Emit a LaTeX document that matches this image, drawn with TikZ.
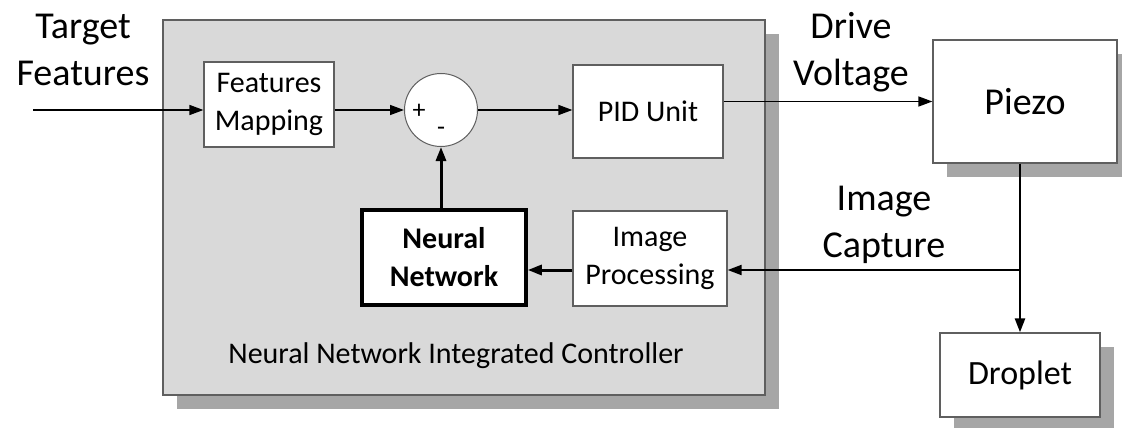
\documentclass[tikz,border=0pt]{standalone}
\usepackage{fontspec}
\setmainfont{Carlito}
\usetikzlibrary{arrows.meta, shadows}

\definecolor{panelgray}{HTML}{D9D9D9}
\definecolor{shadegray}{HTML}{A6A6A6}
\definecolor{edgegray}{HTML}{5F5F5F}

\tikzset{
  blk/.style={draw=edgegray, line width=1.3pt, fill=white, inner sep=0pt, align=center, font=\fontsize{30}{38}\selectfont},
  shadowed/.style={drop shadow={shadow xshift=14pt, shadow yshift=-14pt, fill=shadegray, opacity=1}},
  lbl/.style={align=center, inner sep=0pt, font=\fontsize{38}{47}\selectfont},
  sig/.style={line width=1.5pt, -{Triangle[length=14pt,width=10pt]}},
}

\begin{document}
\begin{tikzpicture}[x=1pt, y=-1pt]
\useasboundingbox (0,0) rectangle (1122,428);
% controller panel
\node (ctrl) at (464,207.5) [draw=edgegray, line width=2pt, fill=panelgray, minimum width=602pt, minimum height=375pt, shadowed] {};
\node (ctrllbl) at (456,363) [anchor=base, inner sep=0pt, font=\fontsize{30}{36}\selectfont] {Neural Network Integrated Controller};
% blocks
\node (fm) at (269,104.5) [blk, minimum width=130pt, minimum height=85pt] {Features\\Mapping};
\node (sum) at (441,110) [circle, draw=edgegray, line width=1pt, fill=white, minimum size=73pt, inner sep=0pt] {};
\node (plus) at (419,111) [inner sep=0pt, font=\fontsize{26}{26}\selectfont] {+};
\node (minus) at (441,131) [inner sep=0pt, font=\fontsize{26}{26}\selectfont] {-};
\node (pid) at (648,111.5) [blk, minimum width=150pt, minimum height=93pt] {PID Unit};
\node (ip) at (650,258.5) [blk, minimum width=154pt, minimum height=95pt] {Image\\Processing};
\node (nn) at (444,257.5) [blk, draw=black, line width=3.5pt, minimum width=164pt, minimum height=95pt, font=\bfseries\fontsize{30}{38}\selectfont] {Neural\\Network};
\node (piezo) at (1025,101.5) [blk, shadowed, minimum width=184pt, minimum height=123pt, font=\fontsize{38}{44}\selectfont] {Piezo};
\node (drop) at (1020,375) [blk, shadowed, minimum width=160pt, minimum height=84pt, font=\fontsize{34}{40}\selectfont] {Droplet};
% signal labels
\node (tgt) at (83,50) [lbl] {Target\\Features};
\node (drv) at (851,52) [lbl] {Drive\\Voltage};
\node (capt) at (884,225) [lbl] {Image\\Capture};
% connectors
\coordinate (tin) at (33,110);
\coordinate (tap) at (1020,270);
\draw [sig] (tin) -- (fm.west |- sum.west);
\draw [sig] (fm.east |- sum.west) -- (sum.west);
\draw [sig] (sum.east) -- (pid.west |- sum.east);
\draw [sig] (pid.east |- piezo.west) -- (piezo.west);
\draw [sig, line width=2.5pt] (piezo.south -| drop.north) -- (drop.north);
\draw [sig, line width=2pt] (tap) -- (ip.east |- tap);
\draw [sig, line width=3pt] (ip.west |- tap) -- (nn.east |- tap);
\draw [sig, line width=3pt] (sum.south |- nn.north) -- (sum.south);
\end{tikzpicture}
\end{document}
